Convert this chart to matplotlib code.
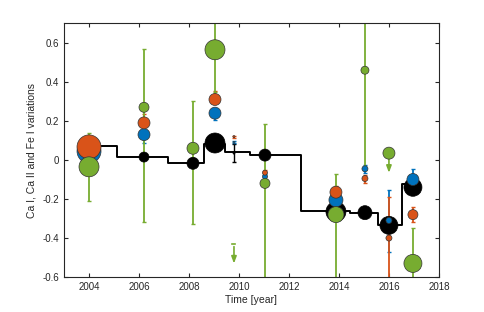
import numpy as np
import matplotlib
matplotlib.use('Agg')
import matplotlib.pyplot as plt

plt.rcParams['font.family'] = ['Liberation Sans', 'DejaVu Sans']

# epochs of observation
T = [2004.0, 2006.2, 2008.16, 2009.04, 2009.8, 2011.04, 2013.88, 2015.04, 2016.0, 2016.96]

# Ca I (green)
ca1 = [-0.035, 0.27, 0.06, 0.565, np.nan, -0.12, -0.28, 0.46, 0.035, -0.53]
ca1_lo = [0.175, 0.59, 0.39, 0.215, 0, 0.6, 0.5, 0.51, 0, 0.2]
ca1_hi = [0.175, 0.30, 0.24, 0.3, 0, 0.305, 0.21, 0.4, 0, 0.18]
ca1_r = [10, 5, 6, 10, 0, 5, 8, 4, 6, 9]
# upper limits for Ca I
lim_t = [2009.8, 2016.0]
lim_v = [-0.43, 0.035]

# Ca II (orange)
ca2 = [0.067, 0.19, np.nan, 0.31, 0.12, -0.065, -0.165, -0.095, -0.40, -0.28]
ca2_lo = [0.03, 0.02, 0, 0.02, 0.005, 0.015, 0.03, 0.025, 0.3, 0.04]
ca2_hi = [0.03, 0.045, 0, 0.045, 0.005, 0.015, 0.03, 0.02, 0.21, 0.04]
ca2_r = [12, 6, 0, 6, 1, 2.5, 6, 3, 3, 5]

# Fe I (blue)
fe1 = [0.045, 0.13, np.nan, 0.24, 0.09, -0.085, -0.205, -0.045, -0.31, -0.10]
fe1_lo = [0.03, 0.045, 0, 0.035, 0.005, 0.015, 0.03, 0.02, 0.16, 0.02]
fe1_hi = [0.03, 0.02, 0, 0.02, 0.005, 0.015, 0.03, 0.02, 0.155, 0.055]
fe1_r = [12, 6, 0, 6, 1, 2.5, 7, 3, 3, 6]

# mean (black)
avg = [0.07, 0.015, -0.017, 0.087, 0.035, 0.025, -0.265, -0.27, -0.335, -0.14]
avg_err = [0, 0, 0, 0, 0.045, 0, 0, 0, 0, 0]
avg_r = [10, 5, 6, 10, 1, 6, 10, 7, 9, 9]

# step line
step_x = [2004.0, 2005.12, 2007.16, 2008.6, 2009.44, 2010.44, 2012.48, 2014.44, 2015.56, 2016.52, 2017.2]
step_y = [0.07, 0.015, -0.015, 0.08, 0.04, 0.025, -0.26, -0.27, -0.335, -0.125]

GREEN = '#77AC30'
ORANGE = '#D95319'
BLUE = '#0072BD'


def sz(r):
    # radius in px -> scatter size in pt^2
    return (1.44 * np.asarray(r, dtype=float)) ** 2


fig = plt.figure(figsize=(4.85, 3.12), dpi=100)
ax = fig.add_axes([0.132, 0.112, 0.773, 0.813])

ax.step(step_x, step_y + [step_y[-1]], where='post', color='k', lw=1.4, zorder=2)

# error bars first, all below the markers
ax.errorbar(T, avg, yerr=avg_err, fmt='none', ecolor='k', elinewidth=1.0,
            capsize=1.5, zorder=2.5)
for vals, lo, hi, col in [(fe1, fe1_lo, fe1_hi, BLUE),
                          (ca2, ca2_lo, ca2_hi, ORANGE),
                          (ca1, ca1_lo, ca1_hi, GREEN)]:
    ax.errorbar(T, vals, yerr=[lo, hi], fmt='none', ecolor=col, elinewidth=1.3,
                capsize=1.5, zorder=2.5)

for x, v in zip(lim_t, lim_v):
    ax.annotate('', xy=(x, v - 0.115), xytext=(x, v),
                arrowprops=dict(arrowstyle='-|>,head_length=0.4,head_width=0.15',
                                color=GREEN, lw=1.2), zorder=2.5)
    ax.plot([x - 0.06, x + 0.06], [v, v], color=GREEN, lw=1.2, zorder=2.5)

ax.scatter(T, avg, s=sz(avg_r), c='k', edgecolors='k', linewidths=0.5, zorder=3)
for vals, rr, col, z in [(fe1, fe1_r, BLUE, 4),
                         (ca2, ca2_r, ORANGE, 5),
                         (ca1, ca1_r, GREEN, 6)]:
    ax.scatter(T, vals, s=sz(rr), c=col, edgecolors='#333333', linewidths=0.5, zorder=z)

ax.set_xlim(2003, 2018)
ax.set_ylim(-0.6, 0.7)
ax.set_xticks(np.arange(2004, 2019, 2))
ax.set_yticks(np.arange(-0.6, 0.61, 0.2))
ax.set_yticklabels(['-0.6', '-0.4', '-0.2', '0', '0.2', '0.4', '0.6'])
ax.tick_params(direction='in', top=True, right=True, length=3, width=0.8,
               labelsize=7, colors='#262626')
for s in ax.spines.values():
    s.set_linewidth(0.8)
    s.set_color('#262626')
ax.set_xlabel('Time [year]', fontsize=7.5, color='#262626', labelpad=2)
ax.set_ylabel('Ca I, Ca II and Fe I variations', fontsize=7.5, color='#262626', labelpad=4)

fig.savefig('out.png', dpi=100)
